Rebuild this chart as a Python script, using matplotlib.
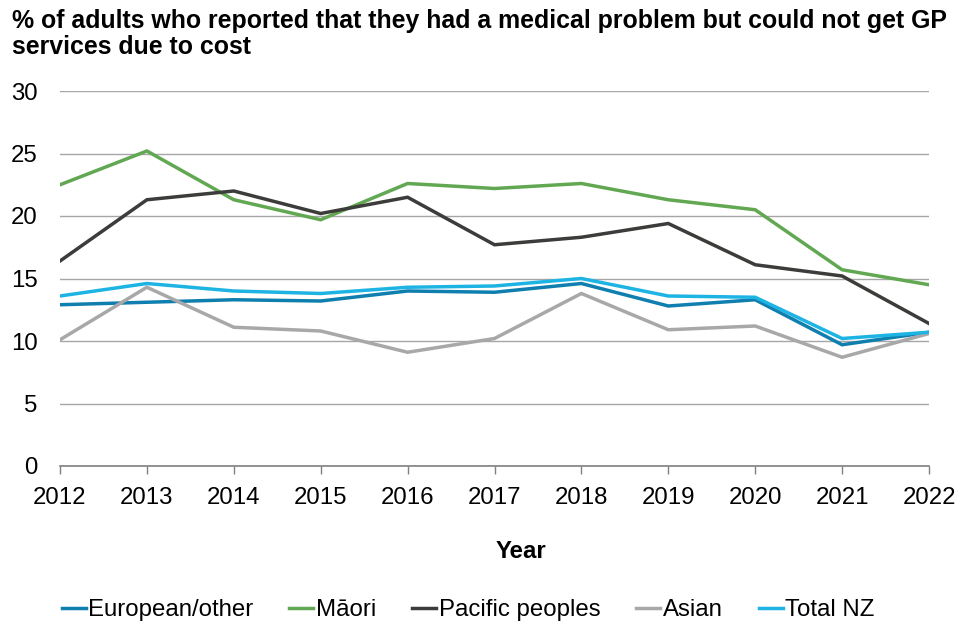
import matplotlib
matplotlib.use("Agg")
import matplotlib.pyplot as plt

plt.rcParams['font.family'] = ['Liberation Sans', 'DejaVu Sans']

years = [2012, 2013, 2014, 2015, 2016, 2017, 2018, 2019, 2020, 2021, 2022]
european = [12.9, 13.1, 13.3, 13.2, 14.0, 13.9, 14.6, 12.8, 13.3, 9.7, 10.7]
maori = [22.5, 25.2, 21.3, 19.7, 22.6, 22.2, 22.6, 21.3, 20.5, 15.7, 14.5]
pacific = [16.4, 21.3, 22.0, 20.2, 21.5, 17.7, 18.3, 19.4, 16.1, 15.2, 11.4]
asian = [10.1, 14.3, 11.1, 10.8, 9.1, 10.2, 13.8, 10.9, 11.2, 8.7, 10.6]
total_nz = [13.6, 14.6, 14.0, 13.8, 14.3, 14.4, 15.0, 13.6, 13.5, 10.2, 10.7]

series = [
    ("European/other", european, "#0E7FAE"),
    ("M\u0101ori", maori, "#62A852"),
    ("Pacific peoples", pacific, "#3C3C3A"),
    ("Asian", asian, "#A8A8A8"),
    ("Total NZ", total_nz, "#1DB4E4"),
]

title = "% of adults who reported that they had a medical problem but could not get GP\nservices due to cost"

W, H = 958, 628
fig = plt.figure(figsize=(W / 100, H / 100), dpi=100)
ax = fig.add_axes([60 / W, 1 - 466 / H, (929 - 60) / W, (466 - 91) / H])

for label, vals, color in series:
    ax.plot(years, vals, color=color, lw=2.5, label=label, solid_joinstyle='miter')

ax.set_xlim(2012, 2022)
ax.set_ylim(0, 30)
ax.set_yticks([0, 5, 10, 15, 20, 25, 30])
ax.set_xticks(years)
ax.grid(axis='y', color='#A6A6A6', lw=1)
ax.set_axisbelow(True)
for s in ['top', 'right', 'left']:
    ax.spines[s].set_visible(False)
ax.spines['bottom'].set_color('#808080')
ax.spines['bottom'].set_linewidth(1.2)
ax.tick_params(axis='y', length=0, pad=16, labelsize=17.3)
ax.tick_params(axis='x', length=6, color='#808080', width=1, pad=9, labelsize=17.3)

fig.text(12 / W, 1 - 9 / H, title, fontsize=17.9, fontweight='bold', va='top', ha='left', linespacing=1.08)
fig.text(521 / W, 1 - 551 / H, "Year", fontsize=17.3, fontweight='bold', ha='center', va='center')

fig.legend(loc='center', bbox_to_anchor=(468 / W, 1 - 610 / H), ncol=5, frameon=False,
           fontsize=17.3, handlelength=1.0, handletextpad=0.1, columnspacing=1.5)

fig.savefig("out.png", dpi=100)
